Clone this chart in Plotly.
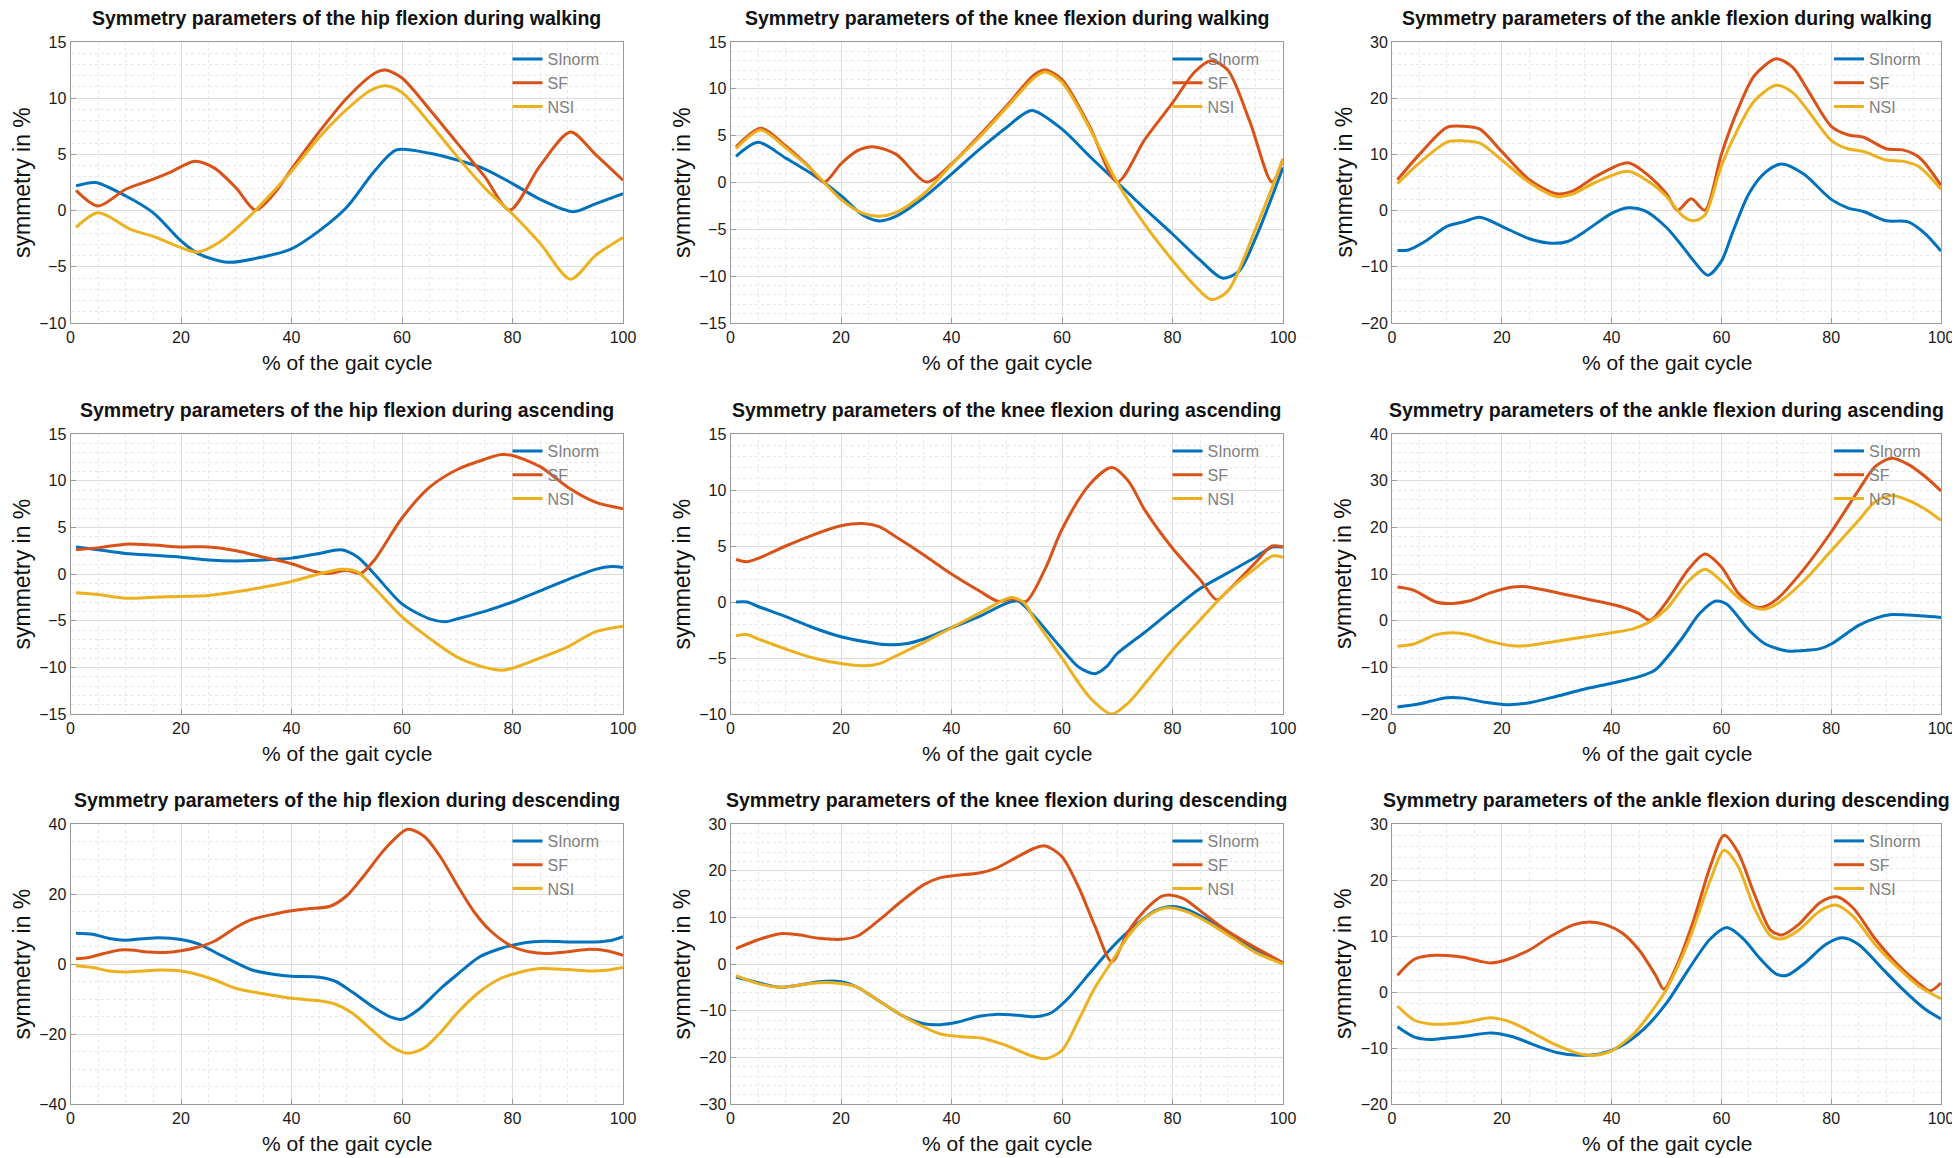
import plotly.graph_objects as go

# ---------------------------------------------------------------------------
# data (x = % of gait cycle, y = symmetry in %)
# ---------------------------------------------------------------------------

# hip, walking
HIP_WALK_SI_X = [1, 4.5, 10, 15, 20, 23, 28.5, 35, 40, 45, 50, 55, 59, 65, 70, 75, 80, 85, 91, 95, 100]
HIP_WALK_SI_Y = [2.2, 2.5, 1.3, -0.2, -2.7, -3.8, -4.6, -4.1, -3.4, -1.8, 0.3, 3.5, 5.4, 5.1, 4.5, 3.7, 2.4, 1.0, -0.1, 0.6, 1.5]
HIP_WALK_SF_X = [1, 5, 10, 15, 18, 22.5, 26, 30, 33.5, 37, 40, 45, 50, 55, 57, 60, 65, 70, 75, 79.5, 85, 90.5, 95, 100]
HIP_WALK_SF_Y = [1.8, 0.4, 1.9, 2.8, 3.4, 4.4, 3.8, 2.0, 0.05, 1.6, 3.7, 7.0, 10.0, 12.2, 12.5, 11.8, 9.0, 6.0, 3.0, 0.05, 4.0, 7.0, 5.0, 2.7]
HIP_WALK_NSI_X = [1, 5, 11, 15, 20, 23, 27, 32, 35, 40, 45, 50, 54, 57, 60, 65, 70, 75, 80, 85, 90.5, 95, 100]
HIP_WALK_NSI_Y = [-1.5, -0.2, -1.7, -2.3, -3.3, -3.7, -2.8, -0.7, 0.8, 3.5, 6.5, 9.0, 10.6, 11.1, 10.5, 7.8, 4.8, 2.0, -0.3, -2.9, -6.1, -4.0, -2.4]

# knee, walking
KNEE_WALK_SI_X = [1, 5, 10, 15, 20, 24, 27, 30, 35, 40, 45, 50, 54.5, 60, 65, 70, 75, 80, 85, 89, 92, 95, 100]
KNEE_WALK_SI_Y = [2.8, 4.3, 2.6, 0.8, -1.4, -3.5, -4.1, -3.6, -1.6, 0.9, 3.5, 5.9, 7.7, 5.7, 2.8, 0.0, -2.8, -5.5, -8.3, -10.2, -9.5, -6.0, 1.6]
KNEE_WALK_SF_X = [1, 5.5, 10, 14, 17, 20, 23, 26, 30, 35.5, 40, 45, 50, 55, 57, 60, 65, 70, 75, 80, 84, 87, 90, 94, 98, 100]
KNEE_WALK_SF_Y = [3.8, 5.8, 3.9, 1.8, 0.05, 2.0, 3.4, 3.8, 3.0, 0.05, 2.0, 5.0, 8.2, 11.5, 12.0, 11.0, 6.0, 0.05, 4.6, 8.5, 11.8, 13.0, 12.0, 6.5, 0.05, 2.5]
KNEE_WALK_NSI_X = [1, 5.5, 10, 15, 20, 24, 27, 30, 35, 40, 45, 50, 55, 57, 60, 65, 70, 75, 80, 84, 87, 90, 95, 100]
KNEE_WALK_NSI_Y = [3.6, 5.6, 3.7, 1.2, -1.8, -3.3, -3.6, -3.2, -1.2, 1.9, 4.8, 8.0, 11.2, 11.8, 10.7, 5.8, 0.0, -4.5, -8.3, -11.0, -12.5, -11.6, -5.0, 2.5]

# ankle, walking
ANKLE_WALK_SI_X = [1, 3, 6, 10, 13, 16, 20, 25, 29, 32, 35, 40, 43, 46, 50, 53, 55, 57.5, 60, 62, 65, 68, 71, 75, 80, 83, 86, 90, 94, 97, 100]
ANKLE_WALK_SI_Y = [-7.1, -7.0, -5.5, -2.8, -2.0, -1.2, -2.8, -5.0, -5.8, -5.5, -3.8, -0.5, 0.5, 0.0, -3.0, -6.5, -9.0, -11.5, -9.0, -4.0, 3.0, 6.8, 8.3, 6.5, 2.0, 0.5, -0.2, -1.8, -2.0, -4.0, -7.2]
ANKLE_WALK_SF_X = [1, 5, 10, 13, 16, 20, 25, 30, 33, 37, 43, 47, 50, 52, 54.5, 57, 60, 63, 66, 70, 73, 76, 80, 83, 86, 90, 93, 96, 100]
ANKLE_WALK_SF_Y = [5.5, 10.0, 14.8, 15.0, 14.5, 10.5, 5.5, 3.0, 3.5, 6.0, 8.5, 6.0, 3.0, 0.05, 2.1, 0.05, 10.0, 18.0, 24.0, 27.0, 25.5, 21.0, 15.0, 13.5, 13.0, 11.0, 10.8, 9.5, 4.5]
ANKLE_WALK_NSI_X = [1, 5, 10, 13, 16, 20, 25, 30, 33, 37, 43, 47, 50, 53, 55, 57, 60, 63, 66, 70, 73, 76, 80, 83, 86, 90, 93, 96, 100]
ANKLE_WALK_NSI_Y = [4.8, 8.5, 12.2, 12.4, 12.0, 9.0, 5.0, 2.5, 3.0, 5.0, 7.0, 5.0, 2.5, -1.0, -1.8, -0.8, 8.0, 14.5, 19.5, 22.3, 21.0, 17.5, 12.5, 11.0, 10.5, 9.0, 8.8, 7.8, 3.8]

# hip, ascending
HIP_ASC_SI_X = [1, 5, 10, 15, 20, 25, 30, 35, 40, 45, 49, 52, 55, 60, 65, 68, 70, 75, 80, 85, 90, 95, 98, 100]
HIP_ASC_SI_Y = [2.9, 2.6, 2.2, 2.0, 1.8, 1.5, 1.4, 1.5, 1.7, 2.2, 2.6, 1.8, 0.0, -3.2, -4.8, -5.1, -4.8, -4.0, -3.0, -1.8, -0.6, 0.5, 0.8, 0.7]
HIP_ASC_SF_X = [1, 5, 10, 15, 20, 25, 30, 35, 40, 44, 46.5, 50, 52.5, 55, 60, 65, 70, 75, 78, 80, 85, 90, 95, 100]
HIP_ASC_SF_Y = [2.6, 2.8, 3.2, 3.1, 2.9, 2.9, 2.5, 1.8, 1.1, 0.3, 0.05, 0.4, 0.05, 1.5, 6.0, 9.3, 11.2, 12.3, 12.8, 12.7, 11.5, 9.3, 7.7, 7.0]
HIP_ASC_NSI_X = [1, 5, 10, 15, 20, 25, 30, 35, 40, 45, 49, 52, 55, 60, 65, 70, 75, 78, 80, 85, 90, 95, 100]
HIP_ASC_NSI_Y = [-2.0, -2.2, -2.6, -2.5, -2.4, -2.3, -1.9, -1.4, -0.8, 0.0, 0.5, 0.2, -1.5, -4.6, -6.9, -8.9, -10.0, -10.3, -10.1, -9.0, -7.8, -6.2, -5.6]

# knee, ascending
KNEE_ASC_SI_X = [1, 3, 5, 10, 15, 20, 25, 28, 32, 35, 40, 45, 50, 52, 55, 60, 63, 66, 68, 70, 75, 80, 85, 90, 95, 98, 100]
KNEE_ASC_SI_Y = [0.0, 0.0, -0.4, -1.3, -2.3, -3.1, -3.6, -3.8, -3.7, -3.3, -2.3, -1.3, -0.1, 0.1, -1.3, -4.2, -5.8, -6.4, -5.8, -4.6, -2.7, -0.7, 1.2, 2.6, 4.0, 4.9, 4.9]
KNEE_ASC_SF_X = [1, 3, 5, 10, 15, 20, 24, 27, 30, 35, 40, 45, 48.5, 51, 53.5, 57, 60, 65, 69, 72, 75, 80, 85, 88, 90, 95, 98, 100]
KNEE_ASC_SF_Y = [3.8, 3.6, 3.9, 5.0, 6.0, 6.8, 7.0, 6.7, 5.8, 4.2, 2.5, 1.0, 0.05, 0.3, 0.05, 3.0, 6.5, 10.5, 12.0, 10.8, 8.2, 4.8, 2.0, 0.2, 1.0, 3.5, 5.0, 4.9]
KNEE_ASC_NSI_X = [1, 3, 5, 10, 15, 20, 24, 27, 30, 35, 40, 45, 50, 51, 53, 55, 60, 65, 69, 72, 75, 80, 85, 88, 90, 95, 98, 100]
KNEE_ASC_NSI_Y = [-3.0, -2.9, -3.3, -4.2, -5.0, -5.5, -5.7, -5.5, -4.8, -3.6, -2.3, -1.0, 0.3, 0.4, 0.0, -1.5, -5.0, -8.5, -10.0, -9.0, -7.3, -4.3, -1.6, 0.0, 1.0, 3.0, 4.1, 4.0]

# ankle, ascending
ANKLE_ASC_SI_X = [1, 5, 10, 13, 17, 21, 25, 30, 35, 40, 45, 48, 50, 53, 56, 59, 61, 65, 68, 72, 75, 78, 80, 85, 88, 91, 94, 100]
ANKLE_ASC_SI_Y = [-18.5, -17.8, -16.5, -16.6, -17.5, -18.0, -17.6, -16.2, -14.7, -13.4, -12.0, -10.5, -8.0, -3.5, 1.5, 4.2, 3.5, -2.0, -5.0, -6.5, -6.4, -6.0, -5.0, -1.0, 0.5, 1.3, 1.2, 0.7]
ANKLE_ASC_SF_X = [1, 4, 8, 11, 14, 18, 22, 24, 28, 32, 36, 40, 43, 45, 47, 50, 54, 57, 60, 63, 66, 67.5, 70, 75, 80, 85, 88, 91, 94, 97, 100]
ANKLE_ASC_SF_Y = [7.2, 6.5, 4.0, 3.7, 4.2, 6.0, 7.2, 7.3, 6.5, 5.5, 4.5, 3.5, 2.5, 1.5, 0.1, 4.0, 11.0, 14.3, 11.5, 6.0, 3.0, 2.9, 4.5, 11.0, 19.0, 28.0, 33.0, 34.8, 33.5, 31.0, 27.8]
ANKLE_ASC_NSI_X = [1, 4, 8, 11, 14, 18, 22, 25, 30, 35, 40, 44, 47, 50, 54, 57, 60, 63, 66, 68, 70, 75, 80, 85, 88, 91, 94, 97, 100]
ANKLE_ASC_NSI_Y = [-5.5, -5.0, -3.0, -2.6, -3.0, -4.5, -5.4, -5.3, -4.4, -3.5, -2.6, -1.7, -0.2, 2.5, 8.5, 11.0, 8.5, 5.0, 2.8, 2.5, 3.5, 8.5, 15.0, 21.5, 25.5, 26.8, 25.8, 24.0, 21.5]

# hip, descending
HIP_DESC_SI_X = [1, 4, 7, 10, 13, 16, 20, 23, 26, 30, 33, 37, 40, 45, 48, 51, 55, 58, 60, 63, 67, 70, 74, 78, 82, 86, 90, 95, 98, 100]
HIP_DESC_SI_Y = [8.8, 8.5, 7.3, 6.8, 7.2, 7.5, 7.0, 5.8, 3.5, 0.3, -1.8, -3.0, -3.5, -3.8, -5.0, -8.0, -12.5, -15.2, -15.8, -13.0, -7.0, -3.0, 2.0, 4.5, 6.0, 6.5, 6.3, 6.3, 6.8, 7.8]
HIP_DESC_SF_X = [1, 3, 6, 9, 11, 14, 17, 20, 23, 26, 30, 33, 37, 40, 43, 47, 50, 53, 57, 61, 64, 67, 70, 73, 76, 80, 83, 86, 90, 94, 97, 100]
HIP_DESC_SF_Y = [1.5, 1.8, 3.0, 4.0, 4.0, 3.4, 3.3, 3.8, 4.8, 6.5, 10.5, 12.8, 14.3, 15.2, 15.8, 16.5, 19.5, 25.0, 33.0, 38.5, 36.5, 30.5, 22.5, 15.0, 9.5, 5.0, 3.5, 3.0, 3.5, 4.2, 3.8, 2.5]
HIP_DESC_NSI_X = [1, 4, 7, 10, 13, 16, 20, 23, 26, 30, 35, 40, 45, 48, 51, 55, 58, 61, 64, 67, 70, 74, 78, 81, 85, 90, 94, 97, 100]
HIP_DESC_NSI_Y = [-0.5, -1.0, -2.0, -2.3, -2.0, -1.7, -2.0, -3.0, -4.5, -7.0, -8.5, -9.8, -10.5, -11.5, -14.0, -19.5, -23.5, -25.5, -24.0, -19.5, -14.0, -8.0, -4.0, -2.5, -1.3, -1.6, -2.0, -1.8, -1.0]

# knee, descending
KNEE_DESC_SI_X = [1, 5, 9, 12, 16, 20, 23, 27, 31, 35, 38, 41, 45, 48, 52, 55, 58, 61, 65, 69, 73, 77, 80, 83, 87, 91, 95, 100]
KNEE_DESC_SI_Y = [-2.8, -4.0, -5.0, -4.6, -3.8, -3.8, -5.0, -8.0, -11.0, -12.8, -13.0, -12.5, -11.2, -10.8, -11.0, -11.3, -10.5, -7.5, -2.0, 3.5, 8.0, 11.5, 12.3, 11.5, 9.0, 6.0, 3.0, 0.2]
KNEE_DESC_SF_X = [1, 5, 9, 12, 16, 20, 23, 27, 31, 35, 38, 41, 45, 48, 52, 55, 57, 60, 63, 66, 69, 72, 75, 78, 79.5, 82, 86, 90, 95, 100]
KNEE_DESC_SF_Y = [3.3, 5.2, 6.5, 6.3, 5.5, 5.3, 6.0, 9.5, 13.5, 17.0, 18.5, 19.0, 19.5, 20.5, 23.0, 24.8, 25.3, 23.0, 16.5, 8.0, 0.5, 7.0, 11.5, 14.5, 14.8, 14.0, 10.5, 7.0, 3.5, 0.3]
KNEE_DESC_NSI_X = [1, 5, 9, 12, 16, 20, 23, 27, 31, 35, 38, 42, 46, 50, 54, 57, 60, 63, 66, 69, 72, 75, 78, 80, 83, 87, 91, 95, 100]
KNEE_DESC_NSI_Y = [-2.5, -4.2, -5.0, -4.6, -4.0, -4.2, -5.0, -8.0, -11.0, -13.5, -15.0, -15.6, -16.0, -17.5, -19.5, -20.3, -18.5, -12.0, -5.0, 0.5, 6.0, 9.8, 11.8, 12.0, 11.0, 8.5, 5.5, 2.5, 0.0]

# ankle, descending
ANKLE_DESC_SI_X = [1, 4, 7, 10, 14, 18, 22, 26, 30, 34, 38, 42, 46, 50, 54, 58, 61, 64, 67, 70, 72, 75, 79, 82, 85, 89, 93, 97, 100]
ANKLE_DESC_SI_Y = [-6.2, -8.0, -8.5, -8.2, -7.8, -7.3, -8.0, -9.5, -10.8, -11.3, -11.0, -9.5, -6.5, -2.0, 4.0, 9.5, 11.5, 9.5, 6.0, 3.2, 3.0, 5.0, 8.5, 9.7, 8.5, 4.5, 0.5, -3.0, -4.8]
ANKLE_DESC_SF_X = [1, 4, 7, 10, 13, 16, 18, 21, 25, 29, 33, 36, 39, 42, 45, 48, 49.5, 52, 55, 58, 60.5, 63, 66, 69, 71, 74, 78, 81, 84, 88, 92, 96, 98, 100]
ANKLE_DESC_SF_Y = [3.0, 5.8, 6.5, 6.5, 6.2, 5.5, 5.2, 5.8, 7.5, 10.0, 12.0, 12.5, 12.0, 10.5, 7.5, 3.0, 0.5, 5.0, 13.0, 22.5, 28.0, 25.0, 17.5, 11.0, 10.2, 12.0, 16.0, 17.0, 15.0, 9.5, 5.0, 1.5, 0.2, 1.6]
ANKLE_DESC_NSI_X = [1, 4, 7, 10, 14, 18, 22, 26, 30, 34, 37, 40, 44, 48, 50, 54, 58, 60.5, 63, 66, 69, 71, 74, 78, 81, 84, 88, 92, 96, 100]
ANKLE_DESC_NSI_Y = [-2.5, -5.0, -5.7, -5.7, -5.3, -4.6, -5.5, -7.5, -9.5, -11.0, -11.3, -10.5, -7.5, -2.5, 0.5, 9.0, 20.0, 25.3, 22.5, 15.0, 10.0, 9.5, 11.0, 14.5, 15.5, 13.5, 8.5, 4.5, 1.0, -1.2]

SERIES_NAMES = ["SInorm", "SF", "NSI"]
SERIES_COLORS = ["#0072BD", "#D95319", "#EDB120"]

# title, y range, y tick step, y minor step, (x, y) per series in SERIES_NAMES order
PANELS = [
    ("Symmetry parameters of the hip flexion during walking", (-10, 15), 5, 1,
     [(HIP_WALK_SI_X, HIP_WALK_SI_Y), (HIP_WALK_SF_X, HIP_WALK_SF_Y), (HIP_WALK_NSI_X, HIP_WALK_NSI_Y)]),
    ("Symmetry parameters of the knee flexion during walking", (-15, 15), 5, 1,
     [(KNEE_WALK_SI_X, KNEE_WALK_SI_Y), (KNEE_WALK_SF_X, KNEE_WALK_SF_Y), (KNEE_WALK_NSI_X, KNEE_WALK_NSI_Y)]),
    ("Symmetry parameters of the ankle flexion during walking", (-20, 30), 10, 2,
     [(ANKLE_WALK_SI_X, ANKLE_WALK_SI_Y), (ANKLE_WALK_SF_X, ANKLE_WALK_SF_Y), (ANKLE_WALK_NSI_X, ANKLE_WALK_NSI_Y)]),
    ("Symmetry parameters of the hip flexion during ascending", (-15, 15), 5, 1,
     [(HIP_ASC_SI_X, HIP_ASC_SI_Y), (HIP_ASC_SF_X, HIP_ASC_SF_Y), (HIP_ASC_NSI_X, HIP_ASC_NSI_Y)]),
    ("Symmetry parameters of the knee flexion during ascending", (-10, 15), 5, 1,
     [(KNEE_ASC_SI_X, KNEE_ASC_SI_Y), (KNEE_ASC_SF_X, KNEE_ASC_SF_Y), (KNEE_ASC_NSI_X, KNEE_ASC_NSI_Y)]),
    ("Symmetry parameters of the ankle flexion during ascending", (-20, 40), 10, 2,
     [(ANKLE_ASC_SI_X, ANKLE_ASC_SI_Y), (ANKLE_ASC_SF_X, ANKLE_ASC_SF_Y), (ANKLE_ASC_NSI_X, ANKLE_ASC_NSI_Y)]),
    ("Symmetry parameters of the hip flexion during descending", (-40, 40), 20, 5,
     [(HIP_DESC_SI_X, HIP_DESC_SI_Y), (HIP_DESC_SF_X, HIP_DESC_SF_Y), (HIP_DESC_NSI_X, HIP_DESC_NSI_Y)]),
    ("Symmetry parameters of the knee flexion during descending", (-30, 30), 10, 2,
     [(KNEE_DESC_SI_X, KNEE_DESC_SI_Y), (KNEE_DESC_SF_X, KNEE_DESC_SF_Y), (KNEE_DESC_NSI_X, KNEE_DESC_NSI_Y)]),
    ("Symmetry parameters of the ankle flexion during descending", (-20, 30), 10, 2,
     [(ANKLE_DESC_SI_X, ANKLE_DESC_SI_Y), (ANKLE_DESC_SF_X, ANKLE_DESC_SF_Y), (ANKLE_DESC_NSI_X, ANKLE_DESC_NSI_Y)]),
]

# ---------------------------------------------------------------------------
# layout (pixel boxes of the 3x3 grid, converted to paper fractions)
# ---------------------------------------------------------------------------
W, H = 1960, 1158
COL_PX = [(62.5, 615), (722.5, 1275), (1384, 1933)]
ROW_PX = [(34, 315), (426, 706), (816, 1096)]
FONT = "Arial"

fig = go.Figure()

for i, (title, yrange, ystep, yminor, series) in enumerate(PANELS):
    n = i + 1
    sfx = "" if n == 1 else str(n)
    row, col = divmod(i, 3)
    x0, x1 = COL_PX[col]
    top, bottom = ROW_PX[row]

    for name, color, (xs, ys) in zip(SERIES_NAMES, SERIES_COLORS, series):
        fig.add_trace(go.Scatter(
            x=xs, y=ys, name=name, mode="lines",
            line=dict(color=color, width=3, shape="spline", smoothing=0.8),
            xaxis="x" + sfx, yaxis="y" + sfx, legend="legend" + sfx,
        ))

    common = dict(
        showline=True, mirror=True, linecolor="#9a9a9a", linewidth=1,
        ticks="inside", ticklen=5, tickcolor="#9a9a9a",
        showgrid=True, gridcolor="#dcdcdc", gridwidth=1,
        zeroline=False, automargin=False,
        tickfont=dict(family=FONT, size=16, color="#1a1a1a"),
    )
    fig.layout["xaxis" + sfx] = dict(
        common, domain=[x0 / W, x1 / W], anchor="y" + sfx,
        range=[0, 100], dtick=20, tick0=0,
        minor=dict(dtick=5, showgrid=True, gridcolor="#e8e8e8", griddash="dot", ticks=""),
    )
    fig.layout["yaxis" + sfx] = dict(
        common, domain=[1 - bottom / H, 1 - top / H], anchor="x" + sfx,
        range=list(yrange), dtick=ystep, tick0=0,
        minor=dict(dtick=yminor, showgrid=True, gridcolor="#e8e8e8", griddash="dot", ticks=""),
    )
    fig.layout["legend" + sfx] = dict(
        x=(x0 + 437) / W, xanchor="left",
        y=1 - top / H, yanchor="top",
        bgcolor="rgba(0,0,0,0)", borderwidth=0,
        font=dict(family=FONT, size=16, color="#808080"),
        tracegroupgap=0,
    )

    xref, yref = "x" + sfx + " domain", "y" + sfx + " domain"
    fig.add_annotation(text="<b>%s</b>" % title, xref=xref, yref=yref, x=0.5, y=1,
                       yanchor="middle", yshift=24, showarrow=False,
                       font=dict(family=FONT, size=19.5, color="#111111"))
    fig.add_annotation(text="% of the gait cycle", xref=xref, yref=yref, x=0.5, y=0,
                       yanchor="middle", yshift=-39, showarrow=False,
                       font=dict(family=FONT, size=21, color="#111111"))
    fig.add_annotation(text="symmetry in %", xref=xref, yref=yref, x=0, y=0.5,
                       xanchor="center", xshift=-49, textangle=-90, showarrow=False,
                       font=dict(family=FONT, size=23, color="#111111"))

fig.update_layout(
    width=W, height=H,
    margin=dict(l=0, r=0, t=0, b=0),
    paper_bgcolor="white", plot_bgcolor="white",
    font=dict(family=FONT),
)

fig.write_html("out.html")
